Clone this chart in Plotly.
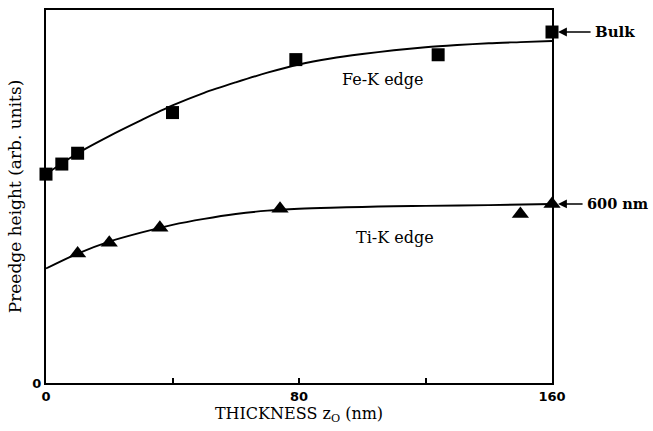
import plotly.graph_objects as go

# Measured preedge heights (arbitrary units) vs. thickness z_O (nm)
fe_x = [0, 5, 10, 40, 79, 124, 160]
fe_y = [0.560, 0.587, 0.616, 0.725, 0.867, 0.880, 0.941]

ti_x = [10, 20, 36, 74, 150, 160]
ti_y = [0.347, 0.376, 0.416, 0.467, 0.453, 0.480]

# Smooth guide curves through the data
fe_fit_x = [0, 10, 20, 30, 40, 50, 60, 70, 80, 90, 100, 110, 120, 130, 140, 150, 160]
fe_fit_y = [0.560, 0.616, 0.662, 0.704, 0.744, 0.778, 0.806, 0.832, 0.854,
            0.870, 0.882, 0.892, 0.900, 0.906, 0.911, 0.914, 0.917]

ti_fit_x = [0, 10, 20, 30, 40, 50, 60, 70, 80, 90, 100, 110, 120, 140, 160]
ti_fit_y = [0.307, 0.347, 0.379, 0.403, 0.424, 0.440, 0.453, 0.462, 0.467,
            0.470, 0.472, 0.474, 0.475, 0.477, 0.480]

x_tickvals = [0, 80, 160]
x_ticktext = ["0", "80", "160"]

SERIF = "DejaVu Serif"
TICKFONT = dict(family="DejaVu Sans", size=13, color="black", weight="bold")

fig = go.Figure()

fig.add_trace(go.Scatter(x=fe_fit_x, y=fe_fit_y, mode="lines",
                         line=dict(color="black", width=1.9, shape="spline", smoothing=0.8),
                         hoverinfo="skip", showlegend=False))
fig.add_trace(go.Scatter(x=ti_fit_x, y=ti_fit_y, mode="lines",
                         line=dict(color="black", width=1.9, shape="spline", smoothing=0.8),
                         hoverinfo="skip", showlegend=False))
fig.add_trace(go.Scatter(x=fe_x, y=fe_y, mode="markers", cliponaxis=False,
                         marker=dict(symbol="square", size=13, color="black"),
                         name="Fe-K edge", showlegend=False))
fig.add_trace(go.Scatter(x=ti_x, y=ti_y, mode="markers", cliponaxis=False,
                         marker=dict(symbol="triangle-up", size=15, color="black"),
                         name="Ti-K edge", showlegend=False))

# right-hand side labels sit outside the plot area, so place them in paper units;
# each label carries an arrow pointing back at its reference value
ARROW_TIP = 1.012
annotations = [
    dict(x=106.5, y=0.814, text="Fe-K edge", showarrow=False,
         font=dict(family=SERIF, size=16, color="black")),
    dict(x=110.5, y=0.389, text="Ti-K edge", showarrow=False,
         font=dict(family=SERIF, size=16, color="black")),
    dict(x=ARROW_TIP, y=fe_y[-1], xref="paper", yref="y", text="<b>Bulk</b>",
         showarrow=True, axref="pixel", ayref="pixel", ax=57, ay=0,
         borderpad=0, startstandoff=4,
         arrowhead=2, arrowsize=1.1, arrowwidth=1.6, arrowcolor="black",
         font=dict(family=SERIF, size=15, color="black")),
    dict(x=ARROW_TIP, y=ti_y[-1], xref="paper", yref="y", text="<b>600 nm</b>",
         showarrow=True, axref="pixel", ayref="pixel", ax=60, ay=0,
         borderpad=0, startstandoff=4,
         arrowhead=2, arrowsize=1.1, arrowwidth=1.6, arrowcolor="black",
         font=dict(family=SERIF, size=14.5, color="black")),
]

fig.update_layout(
    width=653, height=431,
    margin=dict(l=46, r=101, t=8, b=48),
    paper_bgcolor="white", plot_bgcolor="white",
    annotations=annotations,
    font=dict(family=SERIF, color="black"),
    xaxis=dict(range=[0, 160], tickvals=x_tickvals, ticktext=x_ticktext,
               ticks="inside", ticklen=5, tickwidth=1.5, tickcolor="black",
               minor=dict(dtick=40, tick0=0, ticks="inside", ticklen=5,
                          tickwidth=1.5, tickcolor="black", showgrid=False),
               showgrid=False, zeroline=False,
               showline=True, linecolor="black", linewidth=2, mirror=True,
               tickfont=TICKFONT,
               title=dict(text="THICKNESS z<sub>O</sub> (nm)", standoff=4,
                          font=dict(family=SERIF, size=16, color="black"))),
    yaxis=dict(range=[0, 1], tickvals=[0], ticktext=["0"], ticks="",
               showgrid=False, zeroline=False,
               showline=True, linecolor="black", linewidth=2, mirror=True,
               tickfont=TICKFONT,
               title=dict(text="Preedge height (arb. units)", standoff=6,
                          font=dict(family=SERIF, size=17, color="black"))),
)

fig.write_html("out.html")
